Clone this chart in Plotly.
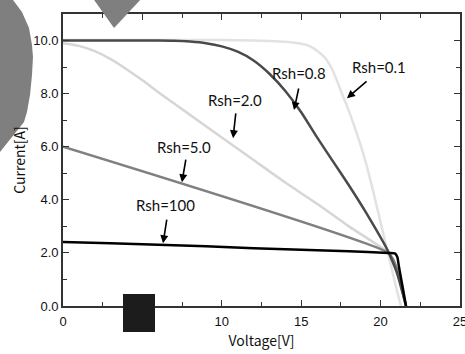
import plotly.graph_objects as go

# ---------------- data ----------------
v_r01 = [0, 4, 8, 10, 12, 13, 14, 15, 15.5, 16, 16.5, 17, 17.5, 18, 18.5, 19, 19.5, 20, 20.5, 21, 21.28]
i_r01 = [10.02, 10.02, 10.02, 10.02, 10.0, 9.98, 9.95, 9.88, 9.8, 9.62, 9.35, 8.85, 8.1, 7.35, 6.5, 5.55, 4.4, 3.15, 1.9, 0.65, 0.0]

v_r08 = [0, 4, 6, 7, 8, 9, 10, 11, 12, 13, 14, 15, 16, 17, 18, 19, 20.5, 20.8, 21.0, 21.2, 21.4, 21.6]
i_r08 = [10.0, 10.0, 10.0, 9.99, 9.96, 9.9, 9.78, 9.58, 9.25, 8.75, 8.1, 7.3, 6.35, 5.45, 4.55, 3.6, 2.03, 1.6, 1.3, 0.9, 0.45, 0.0]

v_r2 = [0, 1, 2, 3, 4, 5, 6, 8, 10, 12, 14, 16, 18, 20.5, 20.8, 21.0, 21.2, 21.4, 21.6]
i_r2 = [9.9, 9.8, 9.6, 9.3, 8.92, 8.5, 8.05, 7.2, 6.35, 5.5, 4.65, 3.85, 3.0, 2.0, 1.7, 1.4, 0.95, 0.5, 0.0]

v_r5 = [0, 20.5, 20.8, 21.0, 21.2, 21.4, 21.6]
i_r5 = [6.0, 2.0, 1.75, 1.45, 1.0, 0.5, 0.0]

v_r100 = [0, 3, 6, 9, 12, 15, 18, 20.5, 20.9, 21.05, 21.15, 21.3, 21.45, 21.6]
i_r100 = [2.41, 2.36, 2.31, 2.25, 2.18, 2.12, 2.06, 2.0, 1.98, 1.85, 1.5, 1.0, 0.5, 0.0]

labels = ["Rsh=0.1", "Rsh=0.8", "Rsh=2.0", "Rsh=5.0", "Rsh=100"]
label_v = [19.87, 14.83, 10.8, 7.65, 6.45]
label_i = [8.99, 8.78, 7.76, 5.98, 3.8]
arrow_head_v = [17.88, 14.55, 10.71, 7.49, 6.30]
arrow_head_i = [7.83, 7.38, 6.32, 4.66, 2.36]
arrow_tail_v = [19.21, 14.86, 10.89, 7.75, 6.55]
arrow_tail_i = [8.51, 8.25, 7.31, 5.57, 3.31]

x_ticks = [0, 5, 10, 15, 20, 25]
y_ticks = [0, 2, 4, 6, 8, 10]

# ---------------- figure ----------------
fig = go.Figure()
series = [
    (v_r01, i_r01, "#e2e2e2"),
    (v_r2, i_r2, "#d6d6d6"),
    (v_r5, i_r5, "#808080"),
    (v_r08, i_r08, "#4a4a4a"),
    (v_r100, i_r100, "#000000"),
]
for vx, iy, col in series:
    fig.add_trace(go.Scatter(x=vx, y=iy, mode="lines",
                             line=dict(color=col, width=2.5, shape="spline", smoothing=0.6),
                             showlegend=False, hoverinfo="skip"))

for t, lv, li, hv, hi, tv, ti in zip(labels, label_v, label_i, arrow_head_v,
                                     arrow_head_i, arrow_tail_v, arrow_tail_i):
    fig.add_annotation(x=lv, y=li, text=t, showarrow=False,
                       font=dict(family="Lato", size=15, color="#111111"))
    fig.add_annotation(x=hv, y=hi, ax=tv, ay=ti, axref="x", ayref="y",
                       text="", showarrow=True, arrowhead=2, arrowsize=1,
                       arrowwidth=1.6, arrowcolor="#000000")

# ---- decorative artifacts of the reference (pixel -> paper) ----
L, R, T, B = 63, 460, 14, 306
def px(x):
    return (x - L) / (R - L)
def py(y):
    return (B - y) / (B - T)

blob = [(-5, -5), (13, -5), (13, 0), (22, 12), (29, 28), (32, 45), (33, 57), (32, 75),
        (30, 95), (27, 112), (24, 122), (12, 137), (0, 152), (-5, 158)]
path = "M " + " L ".join(f"{px(a):.4f},{py(b):.4f}" for a, b in blob) + " Z"
fig.add_shape(type="path", path=path, xref="paper", yref="paper",
              fillcolor="#7f7f7f", line=dict(width=0), layer="above")
tri = [(92, -3), (143, -3), (114, 28)]
path = "M " + " L ".join(f"{px(a):.4f},{py(b):.4f}" for a, b in tri) + " Z"
fig.add_shape(type="path", path=path, xref="paper", yref="paper",
              fillcolor="#7f7f7f", line=dict(width=0), layer="above")
fig.add_shape(type="rect", xref="paper", yref="paper",
              x0=px(123), x1=px(155), y0=py(294), y1=py(332),
              fillcolor="#1c1c1c", line=dict(width=0), layer="above")

axis_common = dict(showline=True, linecolor="#333333", linewidth=1.6,
                   ticks="inside", ticklen=6, tickwidth=1.4, tickcolor="#333333",
                   mirror="allticks", showgrid=False, zeroline=False,
                   ticklabeloverflow="allow", automargin=False,
                   tickfont=dict(family="Liberation Sans", size=13, color="#111111"))

fig.update_xaxes(range=[0, 25], tickvals=x_ticks, ticktext=[str(v) for v in x_ticks],
                 ticklabelstandoff=3,
                 minor=dict(dtick=2.5, ticks="inside", ticklen=4, tickwidth=1.2,
                            tickcolor="#333333"),
                 title=dict(text="Voltage[V]", standoff=8,
                            font=dict(family="Noto Sans CJK JP", size=14, color="#111111")),
                 **axis_common)
fig.update_yaxes(range=[0, 11], tickvals=y_ticks, ticktext=[f"{v:.1f}" for v in y_ticks],
                 minor=dict(dtick=1, ticks="inside", ticklen=4, tickwidth=1.2,
                            tickcolor="#333333"),
                 title=dict(text="Current[A]", standoff=4,
                            font=dict(family="Noto Sans CJK JP", size=14, color="#111111")),
                 **axis_common)

fig.update_layout(width=465, height=354, margin=dict(l=63, r=5, t=14, b=48),
                  plot_bgcolor="white", paper_bgcolor="white")

fig.write_html("out.html", config={"displayModeBar": False},
               post_script="document.body.style.margin='0';")
